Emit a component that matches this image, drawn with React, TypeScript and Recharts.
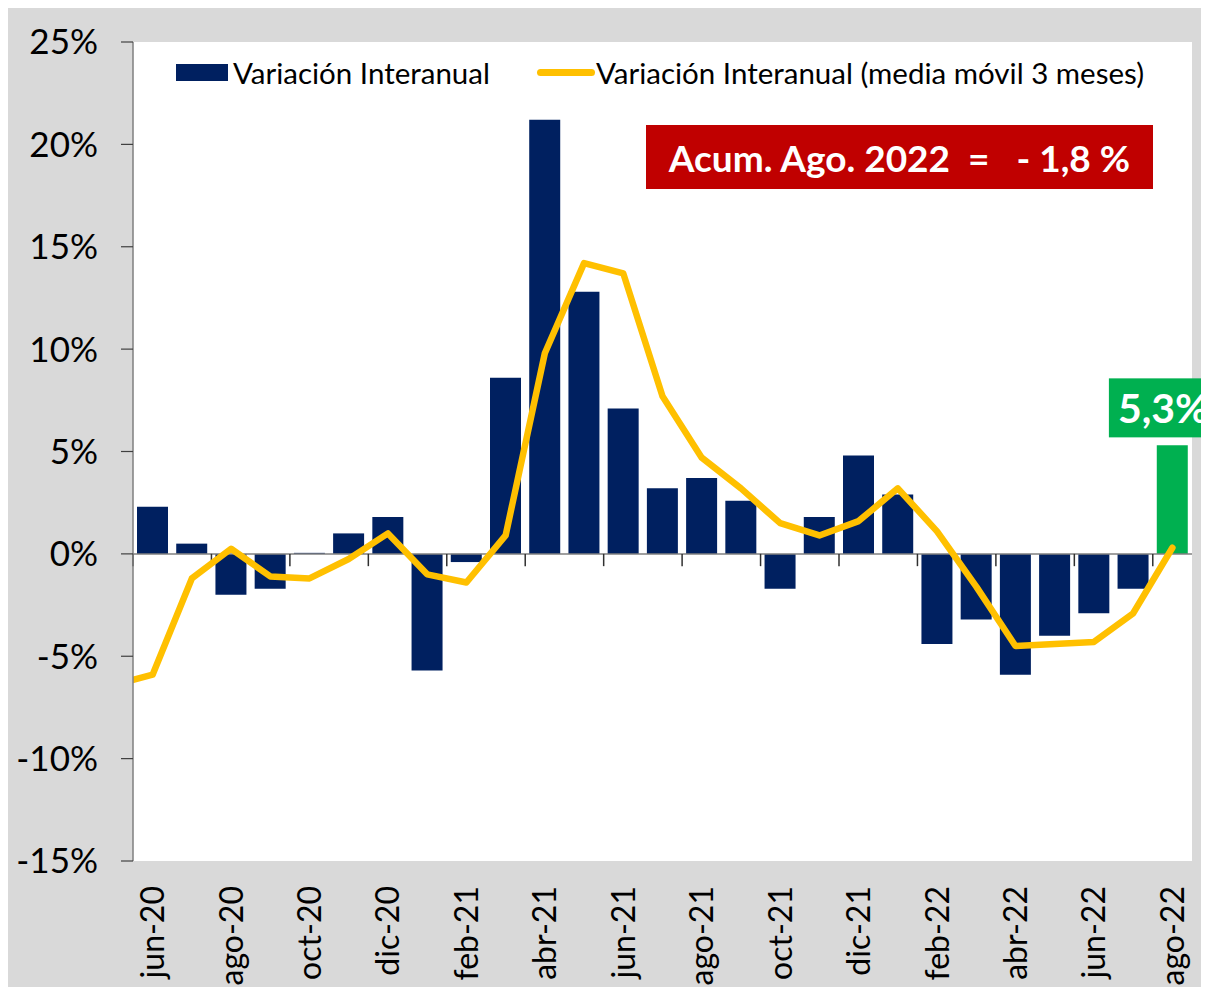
import {
  ComposedChart,
  Bar,
  Line,
  XAxis,
  YAxis,
  Cell,
  ReferenceLine,
  ReferenceDot,
  CartesianGrid,
} from "recharts";

const months = [
  "jun-20", "jul-20", "ago-20", "sep-20", "oct-20", "nov-20", "dic-20",
  "ene-21", "feb-21", "mar-21", "abr-21", "may-21", "jun-21", "jul-21",
  "ago-21", "sep-21", "oct-21", "nov-21", "dic-21", "ene-22", "feb-22",
  "mar-22", "abr-22", "may-22", "jun-22", "jul-22", "ago-22",
];

// variación interanual (%)
const yoy = [
  2.3, 0.5, -2.0, -1.7, 0.05, 1.0, 1.8, -5.7, -0.4, 8.6, 21.2, 12.8, 7.1, 3.2,
  3.7, 2.6, -1.7, 1.8, 4.8, 2.9, -4.4, -3.2, -5.9, -4.0, -2.9, -1.7, 5.3,
];

// media móvil 3 meses (%)
const ma3 = [
  -5.9, -1.2, 0.25, -1.1, -1.2, -0.25, 1.0, -1.0, -1.4, 0.9, 9.8, 14.2, 13.7,
  7.7, 4.7, 3.2, 1.5, 0.9, 1.6, 3.2, 1.1, -1.6, -4.5, -4.4, -4.3, -2.9, 0.3,
];

// mes anterior (fuera del eje, solo entra el tramo de línea)
const prevMonth = "may-20";
const prevMa3 = -6.4;

const yTicks = [-15, -10, -5, 0, 5, 10, 15, 20, 25];
const labelTicks = months.map((_, i) => i).filter((i) => i % 2 === 0);
const zeroTicks = labelTicks.map((i) => i - 0.5);

const highlightMonth = "ago-22";
const highlightIdx = months.indexOf(highlightMonth);

const NAVY = "#002060";
const GREEN = "#00b050";
const YELLOW = "#ffc000";
const RED = "#c00000";
const FONT = "Lato, 'Open Sans', sans-serif";

const data = [
  { idx: -1, month: prevMonth, yoy: null as number | null, ma3: prevMa3 },
  ...months.map((m, i) => ({ idx: i, month: m, yoy: yoy[i], ma3: ma3[i] })),
];

function MonthTick({ x, y, payload }: any) {
  return (
    <text
      x={x}
      y={y}
      transform={`rotate(-90, ${x}, ${y})`}
      textAnchor="end"
      dy="0.36em"
      fontSize={32}
      fontFamily={FONT}
      fill="#000"
    >
      {months[payload.value]}
    </text>
  );
}

// caja verde sobre la última barra
function HighlightBox({ cx, cy }: any) {
  if (cx == null || cy == null) return null;
  const w = 127;
  const h = 59;
  const top = cy - 8 - h;
  const left = cx - w / 2;
  return (
    <g>
      <rect x={left} y={top} width={w} height={h} fill={GREEN} />
      <text
        x={left + 9}
        y={top + h / 2}
        dy="0.36em"
        textAnchor="start"
        fontSize={41}
        fontWeight={700}
        fontFamily={FONT}
        fill="#fff"
      >
        {`${yoy[highlightIdx].toFixed(1).replace(".", ",")}%`}
      </text>
    </g>
  );
}

export default function App() {
  return (
    <div
      style={{
        position: "relative",
        width: 1201,
        height: 979,
        background: "#d9d9d9",
        overflow: "hidden",
        fontFamily: FONT,
      }}
    >
      <ComposedChart
        width={1201}
        height={979}
        data={data}
        margin={{ top: 34, right: 17, bottom: 0, left: 0 }}
      >
        <CartesianGrid fill="#fff" horizontal={false} vertical={false} stroke="none" />
        <XAxis
          dataKey="idx"
          type="number"
          domain={[-0.5, 26.5]}
          allowDataOverflow
          ticks={labelTicks}
          interval={0}
          axisLine={false}
          tickLine={false}
          tickSize={0}
          tickMargin={25}
          height={126}
          tick={<MonthTick />}
        />
        <YAxis
          type="number"
          domain={[-15, 25]}
          ticks={yTicks}
          interval={0}
          width={125}
          tickSize={12}
          tickMargin={23}
          axisLine={{ stroke: "#7f7f7f", strokeWidth: 1.5 }}
          tickLine={{ stroke: "#404040", strokeWidth: 1.2 }}
          tick={{ fontSize: 35, fill: "#000", fontFamily: FONT }}
          tickFormatter={(v) => `${v}%`}
        />
        <Bar dataKey="yoy" barSize={31} isAnimationActive={false}>
          {data.map((d) => (
            <Cell key={d.month} fill={d.month === highlightMonth ? GREEN : NAVY} />
          ))}
        </Bar>
        <ReferenceLine y={0} stroke="#7f7f7f" strokeWidth={1.5} />
        {zeroTicks.map((b) => (
          <ReferenceLine
            key={b}
            segment={[
              { x: b, y: 0 },
              { x: b, y: -0.6 },
            ]}
            stroke="#303030"
            strokeWidth={1.5}
          />
        ))}
        <Line
          dataKey="ma3"
          type="linear"
          stroke={YELLOW}
          strokeWidth={6.5}
          strokeLinecap="round"
          strokeLinejoin="round"
          dot={false}
          isAnimationActive={false}
        />
        <ReferenceDot
          x={highlightIdx}
          y={yoy[highlightIdx]}
          ifOverflow="visible"
          shape={<HighlightBox />}
        />
      </ComposedChart>

      {/* leyenda */}
      <div style={{ position: "absolute", left: 168, top: 56, width: 52, height: 17, background: NAVY }} />
      <div
        style={{ position: "absolute", left: 225, top: 64, transform: "translateY(-50%)", fontSize: 29.5, color: "#000", whiteSpace: "nowrap" }}
      >
        Variación Interanual
      </div>
      <div
        style={{ position: "absolute", left: 529, top: 61, width: 58, height: 7, borderRadius: 4, background: YELLOW }}
      />
      <div
        style={{ position: "absolute", left: 588, top: 64, transform: "translateY(-50%)", fontSize: 29.5, color: "#000", whiteSpace: "nowrap" }}
      >
        Variación Interanual (media móvil 3 meses)
      </div>

      {/* acumulado */}
      <div
        style={{
          position: "absolute",
          left: 638,
          top: 117,
          width: 507,
          height: 64,
          background: RED,
          color: "#fff",
          fontWeight: 700,
          fontSize: 37,
          display: "flex",
          alignItems: "center",
          justifyContent: "center",
          whiteSpace: "pre",
        }}
      >
        {"Acum. Ago. 2022  =   - 1,8 %"}
      </div>
    </div>
  );
}
